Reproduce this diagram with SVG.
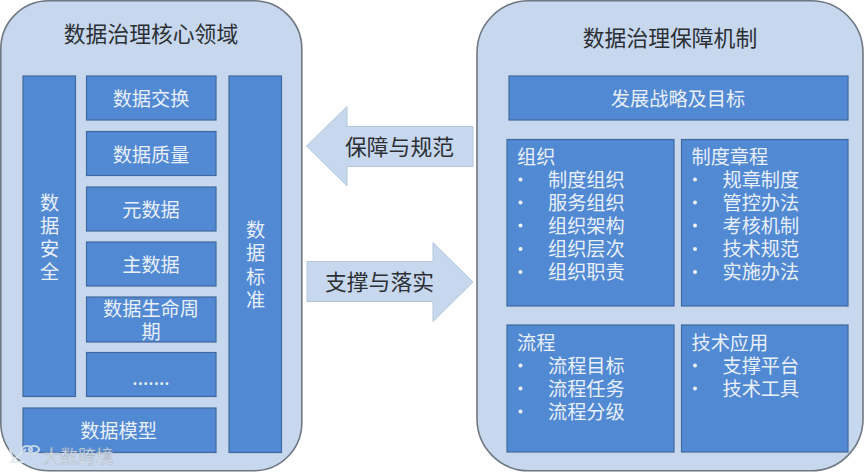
<svg xmlns="http://www.w3.org/2000/svg" width="866" height="472" viewBox="0 0 866 472">
<style>
text{font-family:"Noto Sans CJK SC","Liberation Sans",sans-serif}
.panel{fill:#c6d7ee;stroke:#6f7780;stroke-width:1.6}
.box{fill:#5289d3;stroke:#41699f;stroke-width:1.2}
.arrow{fill:#c6d7ee;stroke:#b5c6dc;stroke-width:1}
.t{fill:#e9f0fa;font-size:19.2px;text-anchor:middle}
.l{fill:#e9f0fa;font-size:19.2px}
.d{fill:#2c2f33;font-size:21.8px;text-anchor:middle}
.b{fill:#f0f5fc}
</style>
<g id="panel-left">
<rect class="panel" x="0.8" y="0.8" width="301" height="470" rx="48" ry="48"/>
<text class="d" x="151" y="42">数据治理核心领域</text>
</g>
<g id="panel-right">
<rect class="panel" x="477" y="0.8" width="386" height="470" rx="52" ry="52"/>
<text class="d" x="670" y="46">数据治理保障机制</text>
</g>
<g id="node-security"><rect class="box" x="23" y="76" width="52.500" height="320.500"/>
<text class="t" x="49.500" y="210">数</text><text class="t" x="49.500" y="233">据</text><text class="t" x="49.500" y="256">安</text><text class="t" x="49.500" y="279">全</text></g>
<g id="node-exchange"><rect class="box" x="86.500" y="76" width="129.500" height="44"/><text class="t" x="151" y="106">数据交换</text></g>
<g id="node-quality"><rect class="box" x="86.500" y="131.500" width="129.500" height="44"/><text class="t" x="151" y="162">数据质量</text></g>
<g id="node-meta"><rect class="box" x="86.500" y="187" width="129.500" height="44"/><text class="t" x="151" y="217">元数据</text></g>
<g id="node-master"><rect class="box" x="86.500" y="242" width="129.500" height="44"/><text class="t" x="151" y="272">主数据</text></g>
<g id="node-lifecycle"><rect class="box" x="86.500" y="297" width="129.500" height="45"/><text class="t" x="151" y="316">数据生命周</text><text class="t" x="151" y="339">期</text></g>
<g id="node-more"><rect class="box" x="86.500" y="352.500" width="129.500" height="44"/><text class="t" x="151" y="385">.......</text></g>
<g id="node-model"><rect class="box" x="23" y="408" width="193" height="44.500"/><text class="t" x="118.500" y="438">数据模型</text></g>
<g id="node-standard"><rect class="box" x="229" y="76" width="52.500" height="376.500"/>
<text class="t" x="255.500" y="237">数</text><text class="t" x="255.500" y="260">据</text><text class="t" x="255.500" y="284">标</text><text class="t" x="255.500" y="307">准</text></g>
<g id="connectors">
<path class="arrow" d="M306.500 146L347 106.500V126.500H473V166.500H347V186Z"/>
<path class="arrow" d="M473 282L433 242.500V261.500H307V301.500H433V321.500Z"/>
</g>
<text class="d" x="399.500" y="155">保障与规范</text>
<text class="d" x="379.500" y="290">支撑与落实</text>
<g id="node-strategy"><rect class="box" x="509" y="76" width="339" height="44"/><text class="t" x="678" y="106">发展战略及目标</text></g>
<g id="node-org"><rect class="box" x="507" y="139.500" width="167" height="166.500"/>
<text class="l" x="517" y="164">组织</text>
<circle class="b" cx="520.500" cy="179.500" r="2"/><text class="l" x="548" y="187">制度组织</text>
<circle class="b" cx="520.500" cy="202.500" r="2"/><text class="l" x="548" y="210">服务组织</text>
<circle class="b" cx="520.500" cy="225.500" r="2"/><text class="l" x="548" y="233">组织架构</text>
<circle class="b" cx="520.500" cy="249" r="2"/><text class="l" x="548" y="256">组织层次</text>
<circle class="b" cx="520.500" cy="272" r="2"/><text class="l" x="548" y="279">组织职责</text></g>
<g id="node-policy"><rect class="box" x="681.500" y="139.500" width="166.500" height="166.500"/>
<text class="l" x="691.500" y="164">制度章程</text>
<circle class="b" cx="695" cy="179.500" r="2"/><text class="l" x="722.500" y="187">规章制度</text>
<circle class="b" cx="695" cy="202.500" r="2"/><text class="l" x="722.500" y="210">管控办法</text>
<circle class="b" cx="695" cy="225.500" r="2"/><text class="l" x="722.500" y="233">考核机制</text>
<circle class="b" cx="695" cy="249" r="2"/><text class="l" x="722.500" y="256">技术规范</text>
<circle class="b" cx="695" cy="272" r="2"/><text class="l" x="722.500" y="279">实施办法</text></g>
<g id="node-process"><rect class="box" x="507" y="325" width="167" height="127"/>
<text class="l" x="517" y="350">流程</text>
<circle class="b" cx="520.500" cy="365.500" r="2"/><text class="l" x="548" y="373">流程目标</text>
<circle class="b" cx="520.500" cy="388.500" r="2"/><text class="l" x="548" y="396">流程任务</text>
<circle class="b" cx="520.500" cy="411.500" r="2"/><text class="l" x="548" y="419">流程分级</text></g>
<g id="node-tech"><rect class="box" x="681.500" y="325" width="166.500" height="127"/>
<text class="l" x="691.500" y="350">技术应用</text>
<circle class="b" cx="695" cy="365.500" r="2"/><text class="l" x="722.500" y="373">支撑平台</text>
<circle class="b" cx="695" cy="388.500" r="2"/><text class="l" x="722.500" y="396">技术工具</text></g>
<g id="watermark" opacity="0.8">
<path d="M10 449L14 463M26 449L11 462H24M27 446a5 3.500 0 1 0 .1 0M34 446a5 3.500 0 1 0 .1 0" fill="none" stroke="#e3e9f0" stroke-width="2"/>
<text x="42.500" y="463" font-size="17.800px" fill="#e6ebf1" stroke="#8b95a1" stroke-width="0.3">大数跨境</text>
</g>
</svg>
